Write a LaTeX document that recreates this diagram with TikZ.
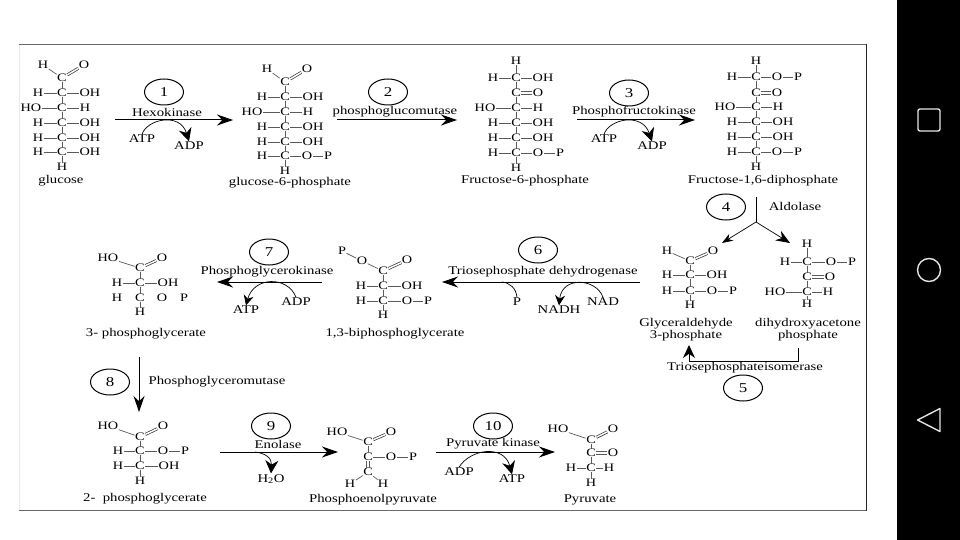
\documentclass[tikz,border=0pt]{standalone}
\usepackage{fontspec}
\setmainfont[FakeStretch=1.25]{Liberation Serif}
\usetikzlibrary{positioning, arrows.meta, shapes.geometric}
\definecolor{bondgray}{HTML}{5A5A5A}
\definecolor{navwhite}{HTML}{E4E4E4}
\definecolor{framegray}{HTML}{6A6A6A}
\tikzset{
    atom/.style={inner sep=0.4pt, font=\fontsize{11.4}{12}\selectfont},
    bond/.style={bondgray, line width=0.7pt},
    dblbond/.style={black!80, line width=0.7pt, double, double distance=1.5pt},
    caption/.style={inner sep=0pt, align=center, font=\fontsize{11.8}{11.5}\selectfont},
    enzyme/.style={inner sep=0pt, font=\fontsize{11.8}{12}\selectfont},
    cofactor/.style={inner sep=0.6pt, font=\fontsize{11.8}{12}\selectfont},
    stepnum/.style={ellipse, draw, line width=1pt, minimum width=39pt, minimum height=26pt, inner sep=0pt, font=\fontsize{13.5}{15}\selectfont},
    rxn/.style={-{Stealth[length=16pt, width=11pt]}, line width=1pt},
    cofarrow/.style={-{Stealth[length=13pt, width=13pt]}, line width=0.7pt},
    smallcof/.style={-{Stealth[length=10pt, width=10pt]}, line width=0.7pt},
    navicon/.style={draw=navwhite, line width=1.4pt},
}
% one C with a left and a right neighbour
\newcommand{\carbon}[7]{%
    \node[atom] (#1) at (#2,#3) {C};
    \node[atom] (#1l) at (#4,#3) {#5};
    \node[atom] (#1r) at (#6,#3) {#7};
    \draw[bond] (#1l) -- (#1);
    \draw[bond] (#1) -- (#1r);
}
\newcommand{\hdouble}[2]{%
    \draw[bond] ([yshift=1.4pt]#1.east) -- ([yshift=1.4pt]#2.west);
    \draw[bond] ([yshift=-1.4pt]#1.east) -- ([yshift=-1.4pt]#2.west);
}
\newcommand{\vdouble}[2]{%
    \draw[bond] ([xshift=1.4pt]#1.south) -- ([xshift=1.4pt]#2.north);
    \draw[bond] ([xshift=-1.4pt]#1.south) -- ([xshift=-1.4pt]#2.north);
}
\newcommand{\rxnline}[3]{%
    \coordinate (#1a) at (#2);
    \coordinate (#1b) at (#3);
    \draw[rxn] (#1a) -- (#1b);
}
\begin{document}
\begin{tikzpicture}[x=1pt, y=-1pt]
    \useasboundingbox (0,0) rectangle (960,540);
    \fill[white] (0,0) rectangle (960,540);
    \fill[black] (897,0) rectangle (960,540);
    \draw[black!8, line width=0.6pt] (19,45) -- (19,510);
    \draw[framegray, line width=1pt] (19,45) -- (866,45);
    \draw[framegray, line width=1pt] (19,510.5) -- (866,510.5);
    \draw[black!85, line width=1.4pt] (866.5,44) -- (866.5,511);
    % nav bar
    \draw[navicon, rounded corners=2pt] (918,109) rectangle (940,131);
    \draw[navicon] (929,270) circle (11.5);
    \draw[navicon, line join=round] (917.5,420) -- (940,408.5) -- (940,431.5) -- cycle;

    % glucose
    \node[atom] (glH) at (43,65) {H};
    \node[atom] (glO) at (84,65) {O};
    \node[atom] (gl0) at (62,78) {C};
    \draw[bond] (glH) -- (gl0);
    \draw[dblbond] (gl0) -- (glO);
    \carbon{gl1}{62}{93}{38}{H}{90}{OH}
    \carbon{gl2}{62}{108}{31}{HO}{85}{H}
    \carbon{gl3}{62}{123}{38}{H}{90}{OH}
    \carbon{gl4}{62}{138}{38}{H}{90}{OH}
    \carbon{gl5}{62}{152}{38}{H}{90}{OH}
    \node[atom] (gl6) at (62,167) {H};
    \foreach \a/\b in {gl0/gl1, gl1/gl2, gl2/gl3, gl3/gl4, gl4/gl5, gl5/gl6}
        \draw[bond] (\a) -- (\b);
    \node[caption] (glname) at (61,181) {glucose};

    % glucose-6-phosphate
    \node[atom] (g6H) at (267,69) {H};
    \node[atom] (g6O) at (307,69) {O};
    \node[atom] (g60) at (285,82) {C};
    \draw[bond] (g6H) -- (g60);
    \draw[dblbond] (g60) -- (g6O);
    \carbon{g61}{285}{97}{262}{H}{313}{OH}
    \carbon{g62}{285}{112}{252}{HO}{308}{H}
    \carbon{g63}{285}{127}{262}{H}{313}{OH}
    \carbon{g64}{285}{142}{262}{H}{313}{OH}
    \carbon{g65}{285}{156}{262}{H}{307}{O}
    \node[atom] (g6P) at (328,156) {P};
    \draw[bond] (g65r) -- (g6P);
    \node[atom] (g66) at (285,171) {H};
    \foreach \a/\b in {g60/g61, g61/g62, g62/g63, g63/g64, g64/g65, g65/g66}
        \draw[bond] (\a) -- (\b);
    \node[caption] (g6name) at (290,182.5) {glucose-6-phosphate};

    % fructose-6-phosphate
    \node[atom] (f60) at (516,61) {H};
    \carbon{f61}{516}{78}{493}{H}{543}{OH}
    \node[atom] (f62) at (516,93) {C};
    \node[atom] (f6O) at (538,93) {O};
    \hdouble{f62}{f6O}
    \carbon{f63}{516}{108}{485}{HO}{538}{H}
    \carbon{f64}{516}{123}{493}{H}{543}{OH}
    \carbon{f65}{516}{138}{493}{H}{543}{OH}
    \carbon{f66}{516}{153}{493}{H}{538}{O}
    \node[atom] (f6P) at (560,153) {P};
    \draw[bond] (f66r) -- (f6P);
    \node[atom] (f67) at (516,168) {H};
    \foreach \a/\b in {f60/f61, f61/f62, f62/f63, f63/f64, f64/f65, f65/f66, f66/f67}
        \draw[bond] (\a) -- (\b);
    \node[caption] (f6name) at (525,181) {Fructose-6-phosphate};

    % fructose-1,6-diphosphate
    \node[atom] (fd0) at (756,61) {H};
    \carbon{fd1}{756}{77}{732}{H}{777}{O}
    \node[atom] (fdP1) at (798,77) {P};
    \draw[bond] (fd1r) -- (fdP1);
    \node[atom] (fd2) at (756,93) {C};
    \node[atom] (fdO) at (777,93) {O};
    \hdouble{fd2}{fdO}
    \carbon{fd3}{756}{107}{725}{HO}{778}{H}
    \carbon{fd4}{756}{122}{732}{H}{783}{OH}
    \carbon{fd5}{756}{137}{732}{H}{783}{OH}
    \carbon{fd6}{756}{152}{732}{H}{777}{O}
    \node[atom] (fdP2) at (798,152) {P};
    \draw[bond] (fd6r) -- (fdP2);
    \node[atom] (fd7) at (756,167) {H};
    \foreach \a/\b in {fd0/fd1, fd1/fd2, fd2/fd3, fd3/fd4, fd4/fd5, fd5/fd6, fd6/fd7}
        \draw[bond] (\a) -- (\b);
    \node[caption] (fdname) at (763,181) {Fructose-1,6-diphosphate};

    % glyceraldehyde 3-phosphate
    \node[atom] (gaH) at (667,251) {H};
    \node[atom] (gaO) at (713,251) {O};
    \node[atom] (ga0) at (690,261) {C};
    \draw[bond] (gaH) -- (ga0);
    \draw[dblbond] (ga0) -- (gaO);
    \carbon{ga1}{690}{275}{667}{H}{717}{OH}
    \carbon{ga2}{690}{291}{667}{H}{712}{O}
    \node[atom] (gaP) at (733,291) {P};
    \draw[bond] (ga2r) -- (gaP);
    \node[atom] (ga3) at (690,305) {H};
    \foreach \a/\b in {ga0/ga1, ga1/ga2, ga2/ga3}
        \draw[bond] (\a) -- (\b);
    \node[caption] (ganame) at (686,329.5) {Glyceraldehyde\\3-phosphate};

    % dihydroxyacetone phosphate
    \node[atom] (dh0) at (807,244) {H};
    \carbon{dh1}{807}{262}{785}{H}{831}{O}
    \node[atom] (dhP) at (852,262) {P};
    \draw[bond] (dh1r) -- (dhP);
    \node[atom] (dh2) at (807,277) {C};
    \node[atom] (dhO) at (830,277) {O};
    \hdouble{dh2}{dhO}
    \carbon{dh3}{807}{292}{775}{HO}{828}{H}
    \node[atom] (dh4) at (807,304) {H};
    \foreach \a/\b in {dh0/dh1, dh1/dh2, dh2/dh3, dh3/dh4}
        \draw[bond] (\a) -- (\b);
    \node[caption] (dhname) at (808,329.5) {dihydroxyacetone\\phosphate};

    % 1,3-biphosphoglycerate
    \node[atom] (bpP) at (342,251) {P};
    \node[atom] (bpOa) at (362,261) {O};
    \node[atom] (bpOb) at (407,260) {O};
    \node[atom] (bp0) at (383,271) {C};
    \draw[bond] (bpP) -- (bpOa);
    \draw[bond] (bpOa) -- (bp0);
    \draw[dblbond] (bp0) -- (bpOb);
    \carbon{bp1}{383}{286}{361}{H}{412}{OH}
    \carbon{bp2}{383}{301}{361}{H}{407}{O}
    \node[atom] (bpPb) at (428,301) {P};
    \draw[bond] (bp2r) -- (bpPb);
    \node[atom] (bp3) at (383,315) {H};
    \foreach \a/\b in {bp0/bp1, bp1/bp2, bp2/bp3}
        \draw[bond] (\a) -- (\b);
    \node[caption] (bpname) at (395,334) {1,3-biphosphoglycerate};

    % 3-phosphoglycerate
    \node[atom] (p3HO) at (108,258) {HO};
    \node[atom] (p3O) at (162,258) {O};
    \node[atom] (p30) at (140,268) {C};
    \draw[bond] (p3HO) -- (p30);
    \draw[dblbond] (p30) -- (p3O);
    \carbon{p31}{140}{283}{117}{H}{168}{OH}
    \node[atom] (p32) at (140,298) {C};
    \node[atom] (p32l) at (117,298) {H};
    \node[atom] (p32r) at (162,298) {O};
    \node[atom] (p3P) at (184,298) {P};
    \node[atom] (p33) at (140,312) {H};
    \foreach \a/\b in {p30/p31, p31/p32, p32/p33}
        \draw[bond] (\a) -- (\b);
    \node[caption] (p3name) at (146,334) {3- phosphoglycerate};

    % 2-phosphoglycerate
    \node[atom] (p2HO) at (108,426) {HO};
    \node[atom] (p2O) at (163,426) {O};
    \node[atom] (p20) at (140,437) {C};
    \draw[bond] (p2HO) -- (p20);
    \draw[dblbond] (p20) -- (p2O);
    \carbon{p21}{140}{451}{118}{H}{163}{O}
    \node[atom] (p2P) at (185,451) {P};
    \draw[bond] (p21r) -- (p2P);
    \carbon{p22}{140}{466}{118}{H}{169}{OH}
    \node[atom] (p23) at (140,481) {H};
    \foreach \a/\b in {p20/p21, p21/p22, p22/p23}
        \draw[bond] (\a) -- (\b);
    \node[caption] (p2name) at (145,499) {2-\ \ phosphoglycerate};

    % phosphoenolpyruvate
    \node[atom] (peHO) at (337,432) {HO};
    \node[atom] (peO) at (391,432) {O};
    \node[atom] (pe0) at (368,442) {C};
    \draw[bond] (peHO) -- (pe0);
    \draw[dblbond] (pe0) -- (peO);
    \node[atom] (pe1) at (368,457) {C};
    \node[atom] (pe1r) at (391,457) {O};
    \node[atom] (peP) at (413,457) {P};
    \draw[bond] (pe1) -- (pe1r);
    \draw[bond] (pe1r) -- (peP);
    \node[atom] (pe2) at (368,472) {C};
    \node[atom] (peHa) at (350,484) {H};
    \node[atom] (peHb) at (383,484) {H};
    \draw[bond] (pe0) -- (pe1);
    \vdouble{pe1}{pe2}
    \draw[bond] (pe2) -- (peHa);
    \draw[bond] (pe2) -- (peHb);
    \node[caption] (pename) at (373,500) {Phosphoenolpyruvate};

    % pyruvate
    \node[atom] (pyHO) at (558,429) {HO};
    \node[atom] (pyOa) at (613,429) {O};
    \node[atom] (py0) at (591,440) {C};
    \draw[bond] (pyHO) -- (py0);
    \draw[dblbond] (py0) -- (pyOa);
    \node[atom] (py1) at (591,453) {C};
    \node[atom] (pyOb) at (613,453) {O};
    \hdouble{py1}{pyOb}
    \carbon{py2}{591}{468}{571}{H}{609}{H}
    \node[atom] (py3) at (591,483) {H};
    \foreach \a/\b in {py0/py1, py1/py2, py2/py3}
        \draw[bond] (\a) -- (\b);
    \node[caption] (pyname) at (590,500) {Pyruvate};

    % step 1
    \node[stepnum] (s1) at (164,92) {1};
    \node[enzyme] (e1) at (167,112) {Hexokinase};
    \rxnline{r1}{115,120}{233,120}
    \node[cofactor] (atpa) at (142,139) {ATP};
    \node[cofactor] (adpa) at (189,146) {ADP};
    \draw[cofarrow] (atpa.north) .. controls (147,119) and (180,112) .. (adpa.north);

    % step 2
    \node[stepnum] (s2) at (388,92) {2};
    \node[enzyme] (e2) at (395,112) {phosphoglucomutase};
    \rxnline{r2}{337,120}{457,120}

    % step 3
    \node[stepnum] (s3) at (629,93) {3};
    \node[enzyme] (e3) at (634,112) {Phosphofructokinase};
    \rxnline{r3}{577,120}{695,120}
    \node[cofactor] (atpb) at (604,139) {ATP};
    \node[cofactor] (adpb) at (652,146) {ADP};
    \draw[cofarrow] (atpb.north) .. controls (609,119) and (642,112) .. (adpb.north);

    % step 4
    \node[stepnum] (s4) at (726,207) {4};
    \node[enzyme] (e4) at (795,206) {Aldolase};
    \coordinate (r4a) at (756,197);
    \coordinate (r4m) at (756,222);
    \coordinate (r4l) at (722,243);
    \coordinate (r4r) at (790,243);
    \draw[line width=0.9pt] (r4a) -- (r4m);
    \draw[-{Stealth[length=11pt, width=8pt]}, line width=0.7pt] (r4m) -- (r4l);
    \draw[-{Stealth[length=14pt, width=11pt]}, line width=0.7pt] (r4m) -- (r4r);

    % step 5
    \node[stepnum] (s5) at (743,388) {5};
    \node[enzyme] (e5) at (745,368) {Triosephosphateisomerase};
    \coordinate (r5a) at (798,348);
    \coordinate (r5b) at (689,345);
    \draw[-{Stealth[length=13pt, width=12pt]}, line width=0.9pt] (r5a) |- (689,361) -- (r5b);

    % step 6
    \node[stepnum] (s6) at (538,250) {6};
    \node[enzyme] (e6) at (543,272) {Triosephosphate dehydrogenase};
    \rxnline{r6}{640,282}{442,282}
    \node[cofactor] (pa) at (517,302) {P};
    \node[cofactor] (nadh) at (559,310) {NADH};
    \node[cofactor] (nad) at (603,302) {NAD};
    \draw[line width=0.7pt] (pa.north) .. controls (516,288) and (510,283) .. (502,282);
    \draw[smallcof] (nad.north) .. controls (596,278) and (562,276) .. (nadh.north);

    % step 7
    \node[stepnum] (s7) at (269,252) {7};
    \node[enzyme] (e7) at (267,272) {Phosphoglycerokinase};
    \rxnline{r7}{322,282}{217,282}
    \node[cofactor] (adpc) at (296,302) {ADP};
    \node[cofactor] (atpc) at (246,310) {ATP};
    \draw[smallcof] (adpc.north) .. controls (288,276) and (254,276) .. (atpc.north);

    % step 8
    \node[stepnum] (s8) at (110,382) {8};
    \node[enzyme] (e8) at (217,382) {Phosphoglyceromutase};
    \rxnline{r8}{139,357}{139,412}

    % step 9
    \node[stepnum] (s9) at (271,426) {9};
    \node[enzyme] (e9) at (278,444) {Enolase};
    \rxnline{r9}{220,452}{338,452}
    \node[cofactor] (water) at (271,479) {H\textsubscript{2}O};
    \coordinate (r9c) at (255,452);
    \draw[cofarrow] (r9c) .. controls (265,453) and (272,458) .. (water.north);

    % step 10
    \node[stepnum] (s10) at (493,426) {10};
    \node[enzyme] (e10) at (493,444) {Pyruvate kinase};
    \rxnline{r10}{436,452}{555,452}
    \node[cofactor] (adpd) at (459,472) {ADP};
    \node[cofactor] (atpd) at (512,479) {ATP};
    \draw[cofarrow] (adpd.north) .. controls (470,449) and (504,444) .. (atpd.north);
\end{tikzpicture}
\end{document}
